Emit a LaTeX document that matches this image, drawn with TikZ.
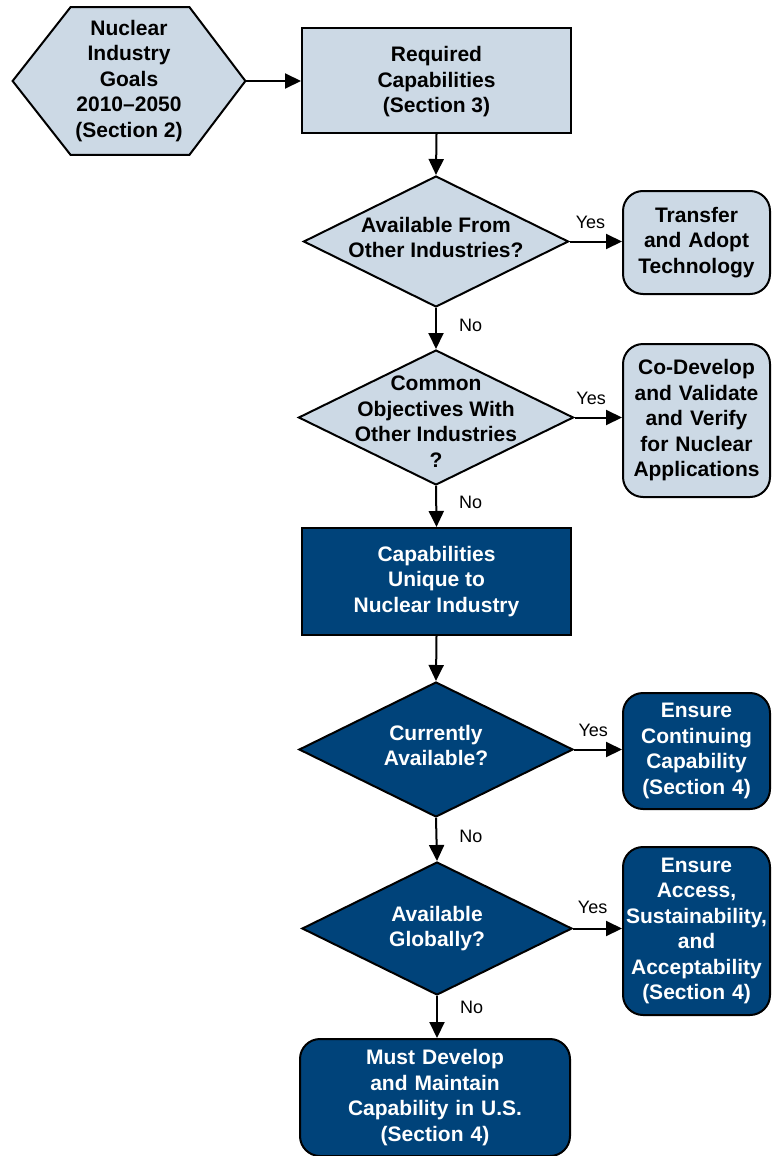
\documentclass[tikz,border=0pt]{standalone}
\usepackage{fontspec}
\setmainfont{Liberation Sans}
\usetikzlibrary{arrows.meta,shapes.geometric,calc,backgrounds}
\definecolor{paleblue}{RGB}{204,217,229}
\definecolor{deepblue}{RGB}{0,67,122}

\begin{document}
\begin{tikzpicture}[x=0.5pt, y=-0.5pt,
	txt/.style={font=\fontsize{10.5}{12.75}\selectfont\bfseries, align=center},
	box/.style={txt, draw=black, line width=1pt, inner sep=0pt, minimum width=134.5pt, minimum height=52.5pt},
	rbox/.style={box, rounded corners=10pt, text width=72pt, minimum width=73.5pt},
	decision/.style={diamond, draw=black, line width=1pt, inner sep=0pt},
	pale/.style={fill=paleblue, text=black},
	deep/.style={fill=deepblue, text=white},
	flow/.style={-{Triangle[length=8pt, width=7.5pt]}, line width=1pt},
	ans/.style={font=\fontsize{9}{11}\selectfont, inner sep=0pt}]
	\useasboundingbox (0,0) rectangle (771,1156);

	\node[txt, minimum width=116pt, minimum height=73.5pt] (goals) at (129,81) {Nuclear\\Industry\\Goals\\2010--2050\\(Section 2)};
	\begin{scope}[on background layer]
		\filldraw[pale, draw=black, line width=1pt] (goals.west) -- ($(goals.north west)+(58,0)$) -- ($(goals.north east)-(56,0)$) -- (goals.east) -- ($(goals.south east)-(56,0)$) -- ($(goals.south west)+(58,0)$) -- cycle;
	\end{scope}

	\node[box, pale, text depth=1pt] (req) at (436.5,80.5) {Required\\Capabilities\\(Section 3)};

	\node[decision, pale, minimum width=132.5pt, minimum height=65.5pt,
		label={[txt, yshift=2pt]center:Available From\\Other Industries?}] (avail) at (436,241.5) {};
	\node[rbox, pale, minimum height=51.5pt] (transfer) at (696.5,242.5) {Transfer\\and Adopt\\Technology};

	\node[decision, pale, minimum width=137.5pt, minimum height=67.5pt,
		label={[txt, yshift=-2pt]center:Common\\Objectives With\\Other Industries\\?}] (common) at (436,417.5) {};
	\node[rbox, pale, minimum height=76.5pt] (codev) at (696.5,420.5) {Co-Develop\\and Validate\\and Verify\\for Nuclear\\Applications};

	\node[box, deep, minimum height=53.5pt] (unique) at (436.5,581.5) {Capabilities\\Unique to\\Nuclear Industry};

	\node[decision, deep, minimum width=137pt, minimum height=67.5pt,
		label={[txt, text=white, yshift=2pt]center:Currently\\Available?}] (curr) at (436,749.5) {};
	\node[rbox, deep, minimum height=58pt] (contin) at (696.5,751) {Ensure\\Continuing\\Capability\\(Section 4)};

	\node[decision, deep, minimum width=135pt, minimum height=66.5pt,
		label={[txt, text=white]center:Available\\Globally?}] (global) at (437,928.5) {};
	\node[rbox, deep, minimum height=84pt] (access) at (696.5,931) {Ensure\\Access,\\Sustainability,\\and\\Acceptability\\(Section 4)};

	\node[rbox, deep, text width=132pt, minimum width=135pt, minimum height=58.5pt] (must) at (435,1097.5) {Must Develop\\and Maintain\\Capability in U.S.\\(Section 4)};

	\draw[flow] (goals.east) -- (goals.east -| req.west);
	\draw[flow] (req.south) -- (avail.north);
	\draw[flow] (avail.east) -- (avail.east -| transfer.west) node[ans, above=6pt, pos=0.4] {Yes};
	\draw[flow] (avail.south) -- (common.north) node[ans, right=11pt, pos=0.42] {No};
	\draw[flow] (common.east) -- (common.east -| codev.west) node[ans, above=6pt, pos=0.35] {Yes};
	\draw[flow] (common.south) -- (unique.north) node[ans, right=11pt, pos=0.4] {No};
	\draw[flow] (unique.south) -- (curr.north);
	\draw[flow] (curr.east) -- (curr.east -| contin.west) node[ans, above=6pt, pos=0.4] {Yes};
	\draw[flow] (curr.south) -- (global.north) node[ans, right=11pt, pos=0.42] {No};
	\draw[flow] (global.east) -- (global.east -| access.west) node[ans, above=7pt, pos=0.4] {Yes};
	\draw[flow] (global.south) -- (global.south |- must.north) node[ans, right=11pt, pos=0.27] {No};
\end{tikzpicture}
\end{document}
